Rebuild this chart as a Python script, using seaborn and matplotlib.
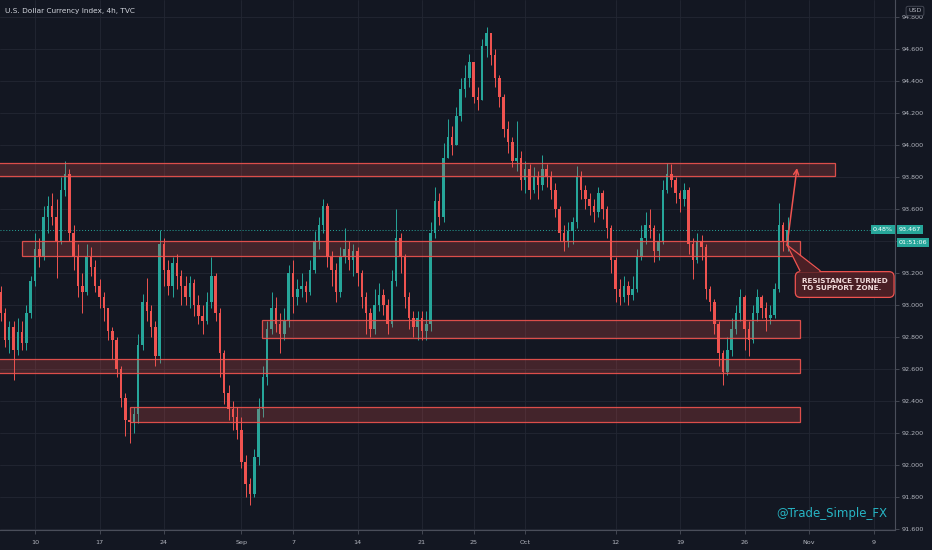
import matplotlib
matplotlib.use('Agg')
import matplotlib.pyplot as plt
import matplotlib.patches as mpatches
import seaborn as sns
import numpy as np
import pandas as pd

# DXY, 8h bars from Aug 6 to Oct 28 2020
first_open = 93.08
close = [
    92.95, 92.78, 92.86, 92.72, 92.83, 92.76, 92.95, 93.15, 93.35, 93.30,
    93.55, 93.62, 93.55, 93.40, 93.72, 93.82, 93.45, 93.30, 93.12, 93.08,
    93.30, 93.24, 93.12, 93.05, 92.98, 92.84, 92.78, 92.60, 92.42, 92.28,
    92.27, 92.32, 92.75, 93.02, 92.96, 92.86, 92.68, 93.38, 93.22, 93.12,
    93.26, 93.18, 93.12, 93.05, 93.14, 93.00, 92.93, 92.90, 93.02, 93.18,
    92.95, 92.70, 92.45, 92.35, 92.30, 92.22, 92.02, 91.88, 91.82, 92.05,
    92.35, 92.55, 92.85, 92.98, 92.88, 92.82, 92.90, 93.20, 93.05, 93.10,
    93.12, 93.08, 93.22, 93.40, 93.50, 93.62, 93.30, 93.22, 93.08, 93.30,
    93.35, 93.28, 93.34, 93.20, 93.05, 92.95, 92.85, 93.00, 93.06, 93.00,
    92.88, 93.15, 93.42, 93.30, 93.05, 92.92, 92.86, 92.92, 92.84, 92.88,
    93.45, 93.65, 93.55, 93.92, 94.05, 94.00, 94.18, 94.35, 94.42, 94.52,
    94.30, 94.28, 94.62, 94.70, 94.56, 94.42, 94.30, 94.10, 94.02, 93.90,
    93.92, 93.78, 93.85, 93.72, 93.80, 93.75, 93.85, 93.80, 93.72, 93.60,
    93.45, 93.40, 93.46, 93.52, 93.80, 93.72, 93.66, 93.62, 93.58, 93.70,
    93.60, 93.48, 93.28, 93.10, 93.05, 93.12, 93.06, 93.10, 93.30, 93.42,
    93.50, 93.48, 93.34, 93.40, 93.72, 93.82, 93.78, 93.70, 93.66, 93.72,
    93.38, 93.28, 93.40, 93.36, 93.10, 93.02, 92.88, 92.70, 92.58, 92.72,
    92.85, 92.95, 93.05, 92.85, 92.78, 92.95, 93.05, 92.98, 92.92, 92.94,
    93.10, 93.50, 93.40, 93.467]
high = [
    93.12, 92.98, 92.90, 92.90, 92.92, 92.90, 93.00, 93.18, 93.45, 93.42,
    93.62, 93.68, 93.70, 93.66, 93.80, 93.90, 93.85, 93.50, 93.38, 93.20,
    93.38, 93.36, 93.28, 93.16, 93.08, 92.98, 92.86, 92.80, 92.62, 92.45,
    92.33, 92.36, 92.82, 93.07, 93.17, 93.00, 92.90, 93.47, 93.42, 93.28,
    93.30, 93.32, 93.22, 93.18, 93.18, 93.16, 93.06, 93.00, 93.08, 93.30,
    93.20, 92.98, 92.72, 92.50, 92.40, 92.36, 92.30, 92.06, 91.92, 92.10,
    92.42, 92.62, 92.90, 93.08, 93.05, 92.95, 92.98, 93.25, 93.28, 93.16,
    93.20, 93.15, 93.28, 93.46, 93.55, 93.66, 93.64, 93.34, 93.26, 93.36,
    93.48, 93.40, 93.38, 93.36, 93.22, 93.08, 92.98, 93.10, 93.14, 93.10,
    93.04, 93.22, 93.60, 93.45, 93.32, 93.08, 92.96, 92.96, 92.96, 92.96,
    93.52, 93.74, 93.70, 94.01, 94.16, 94.12, 94.24, 94.42, 94.50, 94.57,
    94.52, 94.36, 94.66, 94.74, 94.70, 94.60, 94.44, 94.32, 94.15, 94.05,
    94.15, 93.96, 93.90, 93.88, 93.86, 93.84, 93.94, 93.88, 93.84, 93.76,
    93.62, 93.50, 93.52, 93.55, 93.87, 93.84, 93.75, 93.70, 93.66, 93.74,
    93.72, 93.62, 93.50, 93.30, 93.16, 93.18, 93.15, 93.18, 93.35, 93.50,
    93.58, 93.60, 93.50, 93.45, 93.78, 93.89, 93.88, 93.80, 93.72, 93.76,
    93.74, 93.42, 93.45, 93.44, 93.38, 93.12, 93.04, 92.90, 92.72, 92.80,
    92.92, 93.00, 93.10, 93.06, 92.90, 93.00, 93.10, 93.06, 93.02, 93.00,
    93.14, 93.64, 93.52, 93.55]
low = [
    92.90, 92.74, 92.70, 92.53, 92.69, 92.72, 92.72, 92.92, 93.12, 93.24,
    93.28, 93.45, 93.50, 93.17, 93.38, 93.68, 93.40, 93.22, 93.05, 92.95,
    93.06, 93.18, 93.08, 92.98, 92.90, 92.78, 92.66, 92.55, 92.36, 92.18,
    92.14, 92.20, 92.26, 92.72, 92.90, 92.80, 92.62, 92.64, 93.12, 93.06,
    93.05, 93.10, 93.00, 93.00, 92.98, 92.93, 92.88, 92.82, 92.88, 92.98,
    92.90, 92.55, 92.38, 92.28, 92.22, 92.16, 91.98, 91.80, 91.75, 91.80,
    92.00, 92.30, 92.50, 92.82, 92.83, 92.70, 92.78, 92.86, 92.95, 93.00,
    93.05, 93.02, 93.06, 93.20, 93.35, 93.45, 93.24, 93.12, 93.02, 93.05,
    93.26, 93.22, 93.18, 93.12, 92.98, 92.82, 92.80, 92.82, 92.96, 92.94,
    92.82, 92.86, 93.12, 93.20, 92.98, 92.85, 92.80, 92.78, 92.78, 92.78,
    92.84, 93.42, 93.50, 93.52, 93.95, 93.94, 94.02, 94.15, 94.30, 94.36,
    94.26, 94.22, 94.28, 94.55, 94.50, 94.36, 94.24, 94.05, 93.95, 93.86,
    93.84, 93.72, 93.70, 93.66, 93.70, 93.66, 93.72, 93.74, 93.66, 93.55,
    93.40, 93.34, 93.36, 93.38, 93.48, 93.66, 93.60, 93.56, 93.52, 93.55,
    93.54, 93.42, 93.20, 93.02, 93.00, 93.02, 93.00, 93.03, 93.08, 93.28,
    93.38, 93.42, 93.27, 93.28, 93.38, 93.70, 93.74, 93.64, 93.58, 93.62,
    93.32, 93.16, 93.26, 93.28, 93.04, 92.96, 92.82, 92.62, 92.50, 92.56,
    92.68, 92.82, 92.90, 92.72, 92.68, 92.76, 92.90, 92.92, 92.84, 92.88,
    92.92, 93.08, 93.34, 93.34]

# date labels (bar index of each labelled day)
tick_pos = [8, 23, 38, 56, 68, 83, 98, 110, 122, 143, 158, 173, 188, 203]
tick_lab = ['10', '17', '24', 'Sep', '7', '14', '21', '25', 'Oct', '12', '19', '26', 'Nov', '9']
price_ticks = np.round(np.arange(91.6, 94.81, 0.2), 1)
hidden_tick = 93.4   # covered by the countdown label on the reference

# support / resistance zones: start bar, end bar, low, high
zones = [
    (-2, 194.0, 93.806, 93.888),
    (5.0, 185.9, 93.306, 93.400),
    (60.8, 185.9, 92.794, 92.906),
    (-2, 185.9, 92.575, 92.662),
    (30.1, 185.9, 92.269, 92.362),
]
change_pct = '0.48%'
countdown = '01:51:06'

bg = '#131722'
grid_c = '#232733'
txt_c = '#b2b5be'
up_c = '#26a69a'
dn_c = '#ef5350'

sns.set_theme(style='darkgrid', rc={
    'axes.facecolor': bg, 'figure.facecolor': bg, 'grid.color': grid_c,
    'grid.linewidth': 0.6, 'axes.edgecolor': '#4a4e5a'})
plt.rcParams['font.family'] = ['DejaVu Sans']

df = pd.DataFrame({'close': close, 'high': high, 'low': low})
df['open'] = df['close'].shift(1).fillna(first_open)
df['high'] = df[['high', 'open', 'close']].max(axis=1)
df['low'] = df[['low', 'open', 'close']].min(axis=1)
df['up'] = df['close'] >= df['open']
cols = np.where(df['up'], up_c, dn_c)
x = np.arange(len(df))

fig = plt.figure(figsize=(9.32, 5.5), dpi=100)
ax = fig.add_axes([0, 20 / 550, 895 / 932, 530 / 550])

ax.vlines(x, df['low'], df['high'], colors=cols, lw=0.7, zorder=3)
body = (df['close'] - df['open']).abs().clip(lower=0.006)
ax.bar(x, body, bottom=df[['open', 'close']].min(axis=1), width=0.6,
       color=cols, lw=0, zorder=4)

for x0, x1, lo, hi in zones:
    ax.add_patch(mpatches.Rectangle((x0, lo), x1 - x0, hi - lo,
                                    fc=(0.94, 0.33, 0.31, 0.22),
                                    ec=(0.94, 0.33, 0.31, 0.9), lw=0.9, zorder=5))

last = close[-1]
ax.axhline(last, color=up_c, ls=(0, (1, 2)), lw=0.7, zorder=2)

# arrow up to the top zone
ax.annotate('', xy=(185.2, 93.856), xytext=(182.9, 93.375),
            arrowprops=dict(arrowstyle='->', color=dn_c, lw=1.1,
                            mutation_scale=9, shrinkA=0, shrinkB=0), zorder=7)

# callout box
box_fc = '#4a1f25'
ax.text(196.3, 93.128, 'RESISTANCE TURNED\nTO SUPPORT ZONE.', ha='center', va='center',
        multialignment='left', fontsize=5.2, fontweight='bold', color='#f2dcdc',
        linespacing=1.15, zorder=8,
        bbox=dict(boxstyle='round,pad=0.9,rounding_size=0.7', fc=box_fc, ec=dn_c, lw=0.9))
apex = (182.9, 93.375)
ax.add_patch(mpatches.Polygon([apex, (185.9, 93.205), (190.6, 93.205)],
                              closed=True, fc=box_fc, ec='none', zorder=9))
ax.plot([apex[0], 185.9], [apex[1], 93.214], color=dn_c, lw=0.9, zorder=9)
ax.plot([apex[0], 190.6], [apex[1], 93.214], color=dn_c, lw=0.9, zorder=9)

ax.set_xlim(-0.14, 208.0)
ax.set_ylim(91.594, 94.906)
ax.set_xticks(tick_pos)
ax.set_xticklabels(tick_lab)
ax.set_yticks(price_ticks)
ax.set_yticklabels(['' if np.isclose(v, hidden_tick) else f'{v:.3f}' for v in price_ticks])
ax.yaxis.tick_right()
ax.tick_params(axis='y', right=True, left=False, length=3, width=0.6, color='#4a4e5a',
               labelsize=4.6, labelcolor=txt_c, pad=2)
ax.tick_params(axis='x', bottom=True, length=3, width=0.6, color='#4a4e5a',
               labelsize=4.6, labelcolor=txt_c, pad=4)
for side in ['top', 'left']:
    ax.spines[side].set_visible(False)
for side in ['right', 'bottom']:
    ax.spines[side].set_visible(True)
    ax.spines[side].set_color('#4a4e5a')
    ax.spines[side].set_linewidth(0.8)

# last price labels on the axis
ytr = ax.get_yaxis_transform()
ax.text(1.004, last + 0.004, f'{last:.3f}', transform=ytr, ha='left', va='center',
        fontsize=4.6, color='white', clip_on=False, zorder=10,
        bbox=dict(boxstyle='square,pad=0.3', fc=up_c, ec='none'))
ax.text(1.004, 93.388, countdown, transform=ytr, ha='left', va='center', fontsize=4.6,
        color='white', clip_on=False, zorder=10,
        bbox=dict(boxstyle='square,pad=0.3', fc=up_c, ec='none'))
ax.text(0.9975, last + 0.004, change_pct, transform=ytr, ha='right', va='center',
        fontsize=4.6, color='white', zorder=10,
        bbox=dict(boxstyle='square,pad=0.3', fc=up_c, ec='none'))

fig.text(5 / 932, 1 - 11 / 550, 'U.S. Dollar Currency Index, 4h, TVC', fontsize=5.3,
         color='#d1d4dc', va='center', ha='left')
fig.text(915 / 932, 1 - 11 / 550, 'USD', fontsize=4.6, color=txt_c, va='center', ha='center',
         bbox=dict(boxstyle='round,pad=0.35,rounding_size=0.3', fc=bg, ec='#4a4e5a', lw=0.6))
fig.text(887 / 932, 1 - 513 / 550, '@Trade_Simple_FX', fontsize=8.5, color='#27b5c4',
         va='center', ha='right')

fig.savefig('out.png', dpi=100, facecolor=bg)
